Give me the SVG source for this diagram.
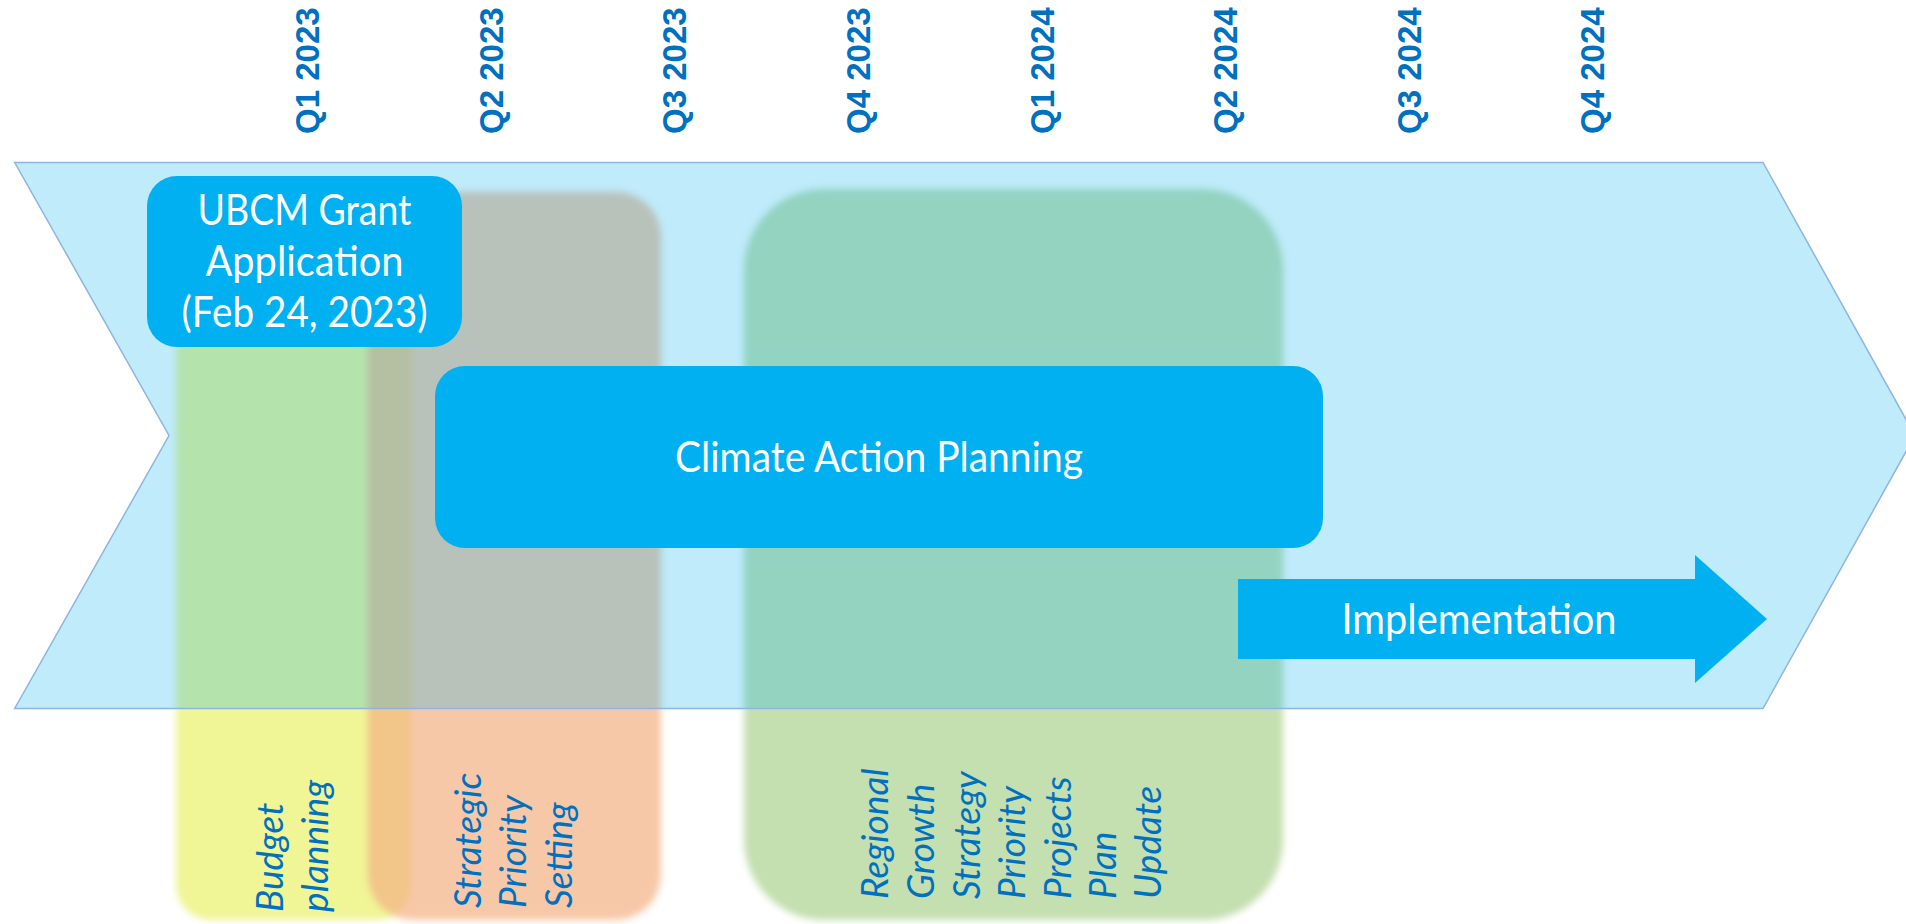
<svg xmlns="http://www.w3.org/2000/svg" width="1906" height="924" viewBox="0 0 1906 924">
<defs>
<filter id="soft" x="-10%" y="-10%" width="120%" height="120%"><feGaussianBlur stdDeviation="3.5"/></filter>
<style>
.q{font-family:"Liberation Sans",Arial,sans-serif;font-weight:bold;font-size:33px;fill:#0070C0}
.box{fill:#00B0F0}
.wt{font-family:Lato,"Open Sans",sans-serif;font-size:42px;fill:#FFFFFF;text-anchor:middle}
.it{font-family:Lato,"Open Sans",sans-serif;font-style:italic;font-size:37px;fill:#0070C0}
</style>
</defs>
<rect width="1906" height="924" fill="#FFFFFF"/>
<g id="quarters">
<text class="q" transform="translate(319,134) rotate(-90)">Q1 2023</text>
<text class="q" transform="translate(503,134) rotate(-90)">Q2 2023</text>
<text class="q" transform="translate(686,134) rotate(-90)">Q3 2023</text>
<text class="q" transform="translate(870,134) rotate(-90)">Q4 2023</text>
<text class="q" transform="translate(1054,134) rotate(-90)">Q1 2024</text>
<text class="q" transform="translate(1237,134) rotate(-90)">Q2 2024</text>
<text class="q" transform="translate(1421,134) rotate(-90)">Q3 2024</text>
<text class="q" transform="translate(1604,134) rotate(-90)">Q4 2024</text>
</g>
<g id="budget-planning">
<rect x="176" y="192" width="235" height="728" rx="35" fill="#F0F596" filter="url(#soft)"/>
</g>
<g id="strategic-priority-setting">
<rect x="368" y="192" width="293" height="728" rx="45" fill="#F4B183" fill-opacity="0.7" filter="url(#soft)"/>
</g>
<g id="rgs-priority-projects">
<rect x="744" y="189" width="539" height="731" rx="80" fill="#C4DFB0" filter="url(#soft)"/>
</g>
<g id="timeline">
<path d="M14.7,162.5 L1763,162.5 L1915,435.5 L1763,708.5 L14.7,708.5 L169,435.5 Z" fill="#00B0F0" fill-opacity="0.25" stroke="#8EB4E3" stroke-width="1.5"/>
</g>
<g id="labels-bottom">
<text class="it" transform="translate(283,912) rotate(-90)">Budget</text>
<text class="it" transform="translate(328,912) rotate(-90)">planning</text>
<text class="it" transform="translate(481,908) rotate(-90)">Strategic</text>
<text class="it" transform="translate(526,908) rotate(-90)">Priority</text>
<text class="it" transform="translate(572,908) rotate(-90)">Setting</text>
<text class="it" transform="translate(888,899) rotate(-90)">Regional</text>
<text class="it" transform="translate(934,899) rotate(-90)">Growth</text>
<text class="it" transform="translate(980,899) rotate(-90)">Strategy</text>
<text class="it" transform="translate(1025,899) rotate(-90)">Priority</text>
<text class="it" transform="translate(1071,899) rotate(-90)">Projects</text>
<text class="it" transform="translate(1116,899) rotate(-90)">Plan</text>
<text class="it" transform="translate(1161,899) rotate(-90)">Update</text>
</g>
<g id="ubcm-grant">
<rect class="box" x="147" y="176" width="315" height="171" rx="30"/>
<text class="wt" x="304.5" y="225" textLength="214" lengthAdjust="spacingAndGlyphs">UBCM Grant</text>
<text class="wt" x="304.5" y="276" textLength="198" lengthAdjust="spacingAndGlyphs">Application</text>
<text class="wt" x="304.5" y="327" textLength="246" lengthAdjust="spacingAndGlyphs">(Feb 24, 2023)</text>
</g>
<g id="climate-action-planning">
<rect class="box" x="435" y="366" width="888" height="182" rx="30"/>
<text class="wt" x="879" y="472" textLength="408" lengthAdjust="spacingAndGlyphs">Climate Action Planning</text>
</g>
<g id="implementation">
<path class="box" d="M1238,579 L1695,579 L1695,555 L1767,619 L1695,683 L1695,659 L1238,659 Z"/>
<text class="wt" x="1479" y="634" textLength="275" lengthAdjust="spacingAndGlyphs">Implementation</text>
</g>
<g id="connectors"/>
</svg>
